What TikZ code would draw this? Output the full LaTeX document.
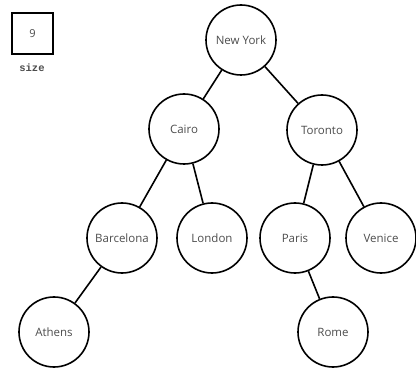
\documentclass[tikz,border=0pt]{standalone}
\usepackage{fontspec}
\setmainfont{Open Sans}
\newfontfamily\monob{Liberation Mono}[BoldFont={Liberation Mono Bold}]
\begin{document}
\begin{tikzpicture}[x=1pt,y=-1pt,
  city/.style={circle,draw=black,line width=1.6pt,minimum size=70pt,inner sep=0pt,text=black!70,font=\fontsize{11.5}{13}\selectfont},
  edge/.style={line width=1.6pt}]
\useasboundingbox (0,0) rectangle (416,369);
\node[draw,line width=1.6pt,minimum size=41pt,inner sep=0pt,text=black!70,font=\fontsize{11}{13}\selectfont] (box) at (32.5,33.5) {9};
\node[font=\monob\bfseries\fontsize{10.5}{12}\selectfont,text=black!70,inner sep=0pt] (lbl) at (32,68) {size};
\node[city] (ny) at (241,40) {New York};
\node[city] (cairo) at (184,129) {Cairo};
\node[city] (toronto) at (322,130) {Toronto};
\node[city] (barcelona) at (122,238) {Barcelona};
\node[city] (london) at (212,238) {London};
\node[city] (paris) at (295,238) {Paris};
\node[city] (venice) at (381,238) {Venice};
\node[city] (athens) at (54,332) {Athens};
\node[city] (rome) at (333,332) {Rome};
\draw[edge] (ny) -- (cairo);
\draw[edge] (ny) -- (toronto);
\draw[edge] (cairo) -- (barcelona);
\draw[edge] (cairo) -- (london);
\draw[edge] (toronto) -- (paris);
\draw[edge] (toronto) -- (venice);
\draw[edge] (barcelona) -- (athens);
\draw[edge] (paris) -- (rome);
\end{tikzpicture}
\end{document}
